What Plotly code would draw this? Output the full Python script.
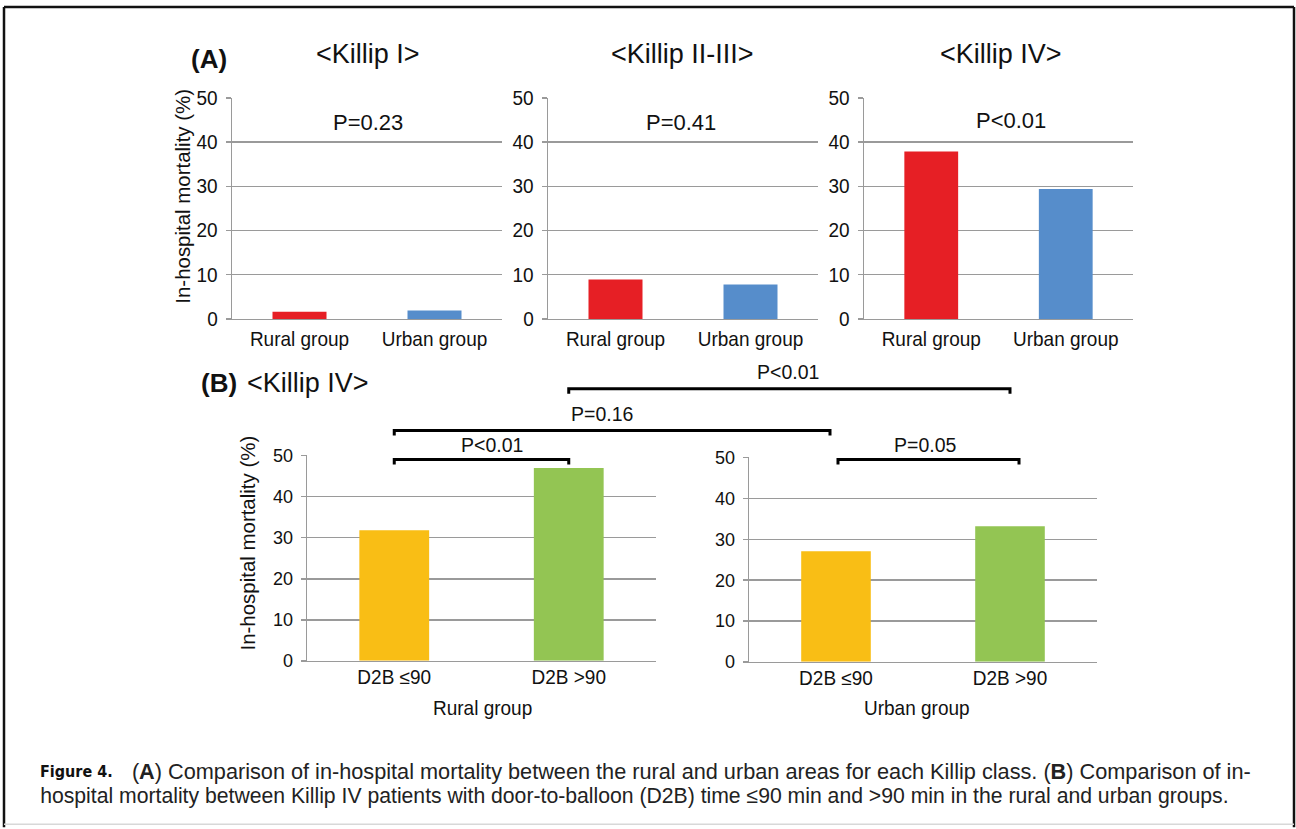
import plotly.graph_objects as go

W, H = 1296, 829

# ---------------- data ----------------
cats_a = ["Rural group", "Urban group"]
killip1 = [1.6, 1.9]
killip23 = [8.9, 7.8]
killip4 = [37.9, 29.4]
titles_a = ["&lt;Killip I&gt;", "&lt;Killip II-III&gt;", "&lt;Killip IV&gt;"]
pvals_a = ["P=0.23", "P=0.41", "P&lt;0.01"]

cats_b = ["D2B ≤90", "D2B >90"]
rural_b = [31.8, 47.0]
urban_b = [27.1, 33.2]
groups_b = ["Rural group", "Urban group"]

colors_a = ["#E61F25", "#568DCB"]
colors_b = ["#F9BE15", "#93C553"]

FONT = "Liberation Sans, Arial, Helvetica, sans-serif"
GRID = "#9a9a9a"


def X(px):
    return px / W


def Y(py):
    return 1 - py / H


# panel domains in pixels: (x0, x1, ytop(50), ybottom(0))
panels = [
    (232, 502, 97, 319),
    (548, 818, 97, 319),
    (864, 1133, 97, 319),
    (307, 656, 456, 662),
    (749, 1097, 458, 663),
]
series = [(cats_a, killip1, colors_a), (cats_a, killip23, colors_a), (cats_a, killip4, colors_a),
          (cats_b, rural_b, colors_b), (cats_b, urban_b, colors_b)]

fig = go.Figure()
layout = dict(
    width=W, height=H, margin=dict(l=0, r=0, t=0, b=0),
    paper_bgcolor="white", plot_bgcolor="white", showlegend=False,
    font=dict(family=FONT, color="#111"),
)

for i, ((x0, x1, yt, yb), (cats, vals, cols)) in enumerate(zip(panels, series), start=1):
    sfx = "" if i == 1 else str(i)
    fig.add_trace(go.Bar(x=cats, y=vals, marker=dict(color=cols, line=dict(width=0)),
                         width=0.4, xaxis="x" + sfx, yaxis="y" + sfx, hoverinfo="skip"))
    layout["xaxis" + sfx] = dict(
        domain=[X(x0), X(x1)], anchor="y" + sfx, type="category", range=[-0.5, 1.5],
        showline=True, linecolor=GRID, linewidth=1.5, ticks="", showgrid=False,
        tickfont=dict(size=19, family=FONT, color="#111"), fixedrange=True,
        ticklabelstandoff=2 if i <= 3 else -2,
    )
    layout["yaxis" + sfx] = dict(
        domain=[Y(yb), Y(yt)], anchor="x" + sfx, range=[0, 50.05], dtick=10, tick0=0,
        showgrid=True, gridcolor=GRID, gridwidth=1.5, showline=True, linecolor=GRID,
        linewidth=1.5, ticks="outside", ticklen=5, tickcolor=GRID, tickwidth=1.5,
        zeroline=False, tickfont=dict(size=19 if i <= 3 else 18, family=FONT, color="#111"),
        fixedrange=True, ticklabelstandoff=4,
    )

fig.update_layout(**layout)

ann = []


def text(px, py, t, size, anchor="center", bold=False, angle=0, family=FONT, color="#111"):
    ann.append(dict(x=X(px), y=Y(py), xref="paper", yref="paper", text=("<b>%s</b>" % t) if bold else t,
                    showarrow=False, xanchor=anchor, yanchor="middle", textangle=angle,
                    font=dict(size=size, family=family, color=color)))


# Panel A texts
text(209, 58, "(A)", 26, bold=True)
for cx, t in zip([368, 683, 1001], titles_a):
    text(cx, 53, t, 27)
for cx, cy, t in zip([368, 681, 1011], [122, 122, 120], pvals_a):
    text(cx, cy, t, 22)
text(183, 196, "In-hospital mortality (%)", 20, angle=-90)

# Panel B texts
text(199, 383, "(B)", 26, anchor="left", bold=True)
text(245, 383, "&lt;Killip IV&gt;", 27, anchor="left")
text(248, 544, "In-hospital mortality (%)", 20, angle=-90)
text(482, 709, groups_b[0], 19)
text(917, 709, groups_b[1], 19)

# brackets
shapes = []


def cat_center(panel, idx):
    x0, x1 = panels[panel][0], panels[panel][1]
    return x0 + (idx + 0.5) / 2 * (x1 - x0)


def bracket(xa, xb, py, label, lx, ly):
    path = "M %.5f,%.5f L %.5f,%.5f L %.5f,%.5f L %.5f,%.5f" % (
        X(xa), Y(py + 5), X(xa), Y(py), X(xb), Y(py), X(xb), Y(py + 5))
    shapes.append(dict(type="path", path=path, xref="paper", yref="paper",
                       line=dict(color="black", width=3)))
    text(lx, ly, label, 19.5)


bracket(cat_center(3, 0), cat_center(3, 1), 460, "P&lt;0.01", 492, 445)
bracket(cat_center(3, 0), cat_center(4, 0) - 6, 431, "P=0.16", 602, 414)
bracket(cat_center(3, 1), cat_center(4, 1), 389, "P&lt;0.01", 788, 372)
bracket(cat_center(4, 0) + 2, cat_center(4, 1) + 9, 460, "P=0.05", 925, 445)

# frame
for (xa, ya, xb, yb) in [(4, 6, 4, 829), (4, 6, 1294, 6), (1294, 6, 1294, 829)]:
    shapes.append(dict(type="line", xref="paper", yref="paper", x0=X(xa), y0=Y(ya), x1=X(xb), y1=Y(yb),
                       line=dict(color="#111", width=2.5)))
shapes.append(dict(type="line", xref="paper", yref="paper", x0=X(4), y0=Y(826), x1=X(1294), y1=Y(826),
                   line=dict(color="#d8d8d8", width=1.5)))

# caption
CAP = "Liberation Sans, Arial, sans-serif"
text(38, 773, "Figure 4.", 16, anchor="left", bold=True,
     family="Liberation Sans Narrow, DejaVu Sans Condensed, Arial Narrow, sans-serif")
text(130, 773, "(<b>A</b>) Comparison of in-hospital mortality between the rural and urban areas for each Killip class. "
               "(<b>B</b>) Comparison of in-", 21.7, anchor="left", family=CAP, color="#222")
text(38, 797, "hospital mortality between Killip IV patients with door-to-balloon (D2B) time ≤90 min and &gt;90 min "
              "in the rural and urban groups.", 21.2, anchor="left", family=CAP, color="#222")

fig.update_layout(annotations=ann, shapes=shapes)
fig.write_html(
    "out.html",
    config={"displayModeBar": False, "staticPlot": True},
    post_script=(
        "var d=document.getElementById('{plot_id}');"
        "d.style.position='fixed';d.style.top='0px';d.style.left='0px';"
        "d.style.transformOrigin='0 0';"
        "d.style.transform='translate(0px,-9.2px) scale(1,1.0225)';"
        "document.body.style.margin='0';document.body.style.overflow='hidden';"
        "document.documentElement.style.overflow='hidden';"
    ),
)
